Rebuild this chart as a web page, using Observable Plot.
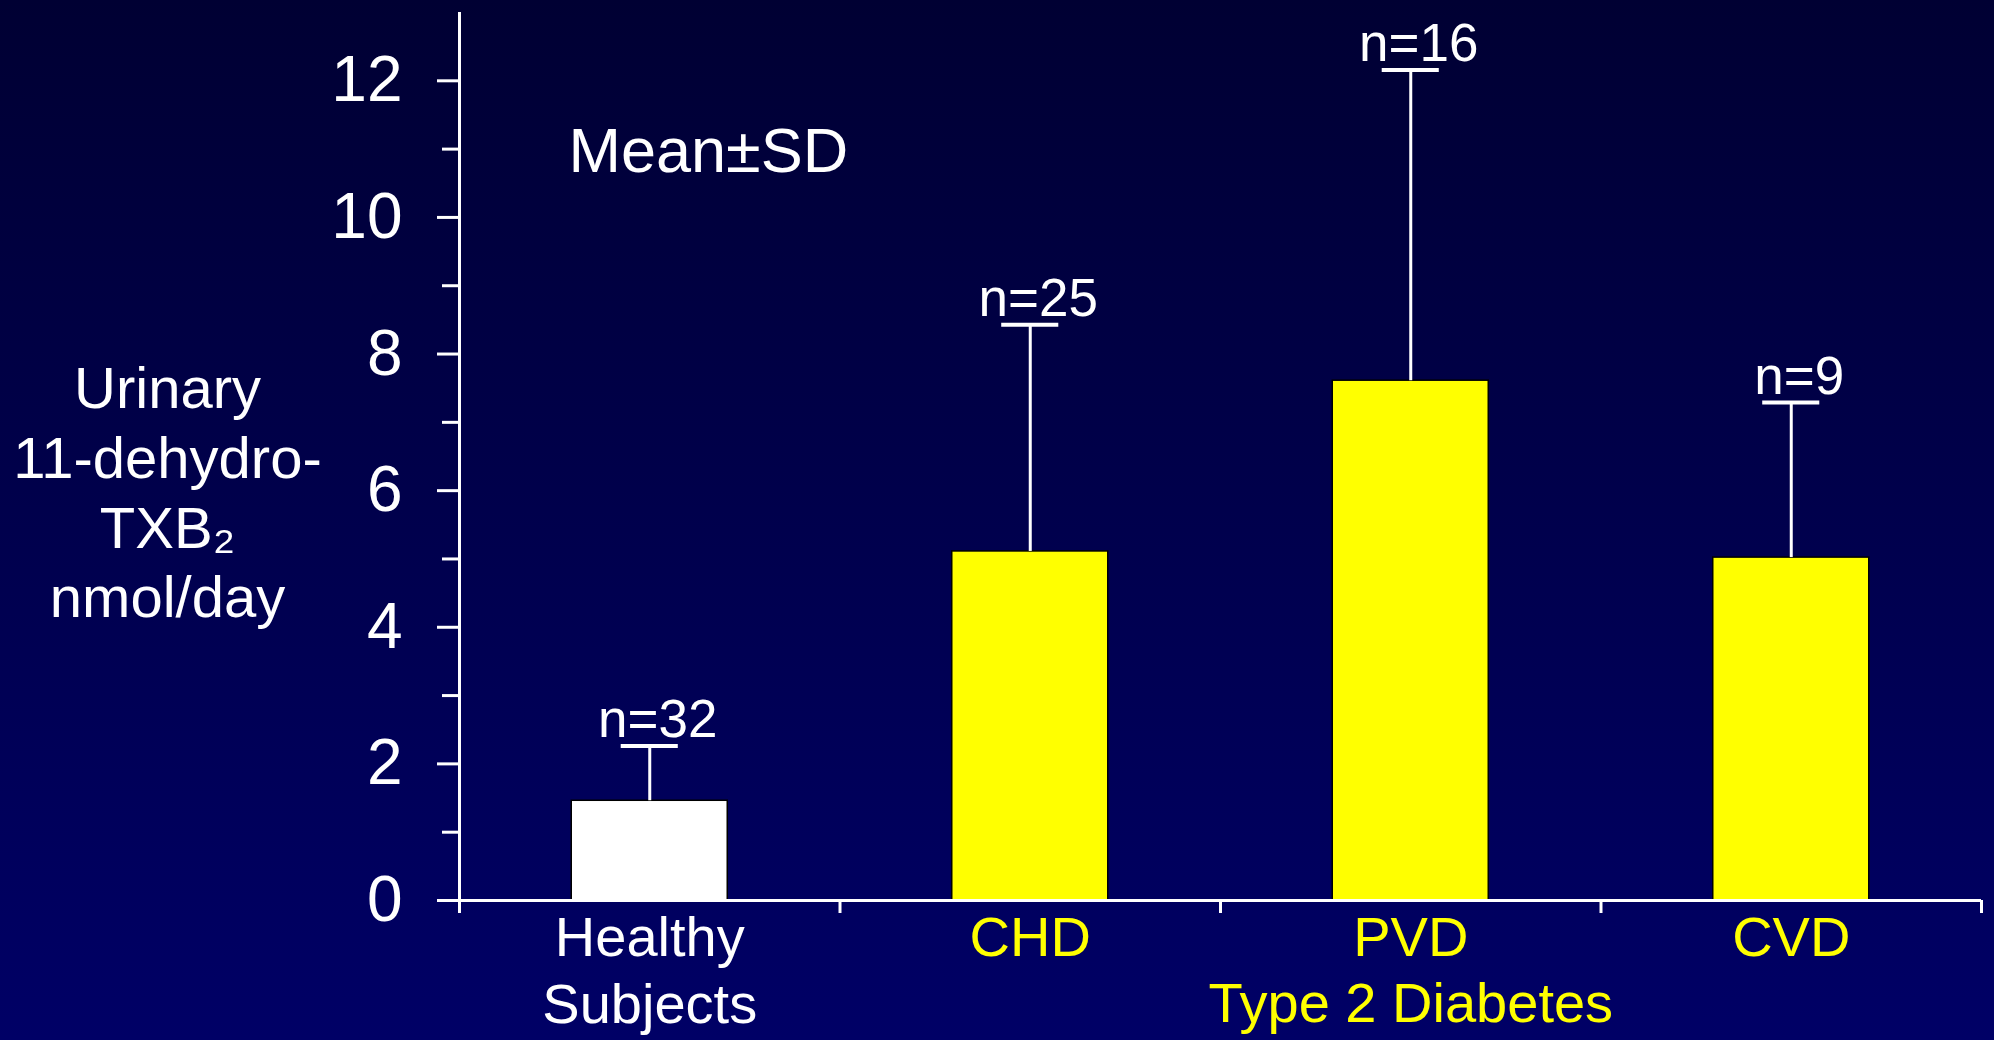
<!DOCTYPE html>
<html><head><meta charset="utf-8">
<script src="https://cdn.jsdelivr.net/npm/d3@7"></script>
<script src="https://cdn.jsdelivr.net/npm/@observablehq/plot@0.6"></script>
<style>
html,body{margin:0;padding:0;}
body{width:1994px;height:1040px;background:linear-gradient(to bottom,#000033,#000066);overflow:hidden;font-family:"Liberation Sans",Arial,sans-serif;}
#chart svg{display:block;}
</style></head><body><div id="chart"></div>
<script>
// ---- data ----
const categories = ["Healthy\nSubjects", "CHD", "PVD", "CVD"];
const means = [1.46, 5.11, 7.61, 5.02];
const sds = [0.80, 3.32, 4.55, 2.27];
const nLabels = ["n=32", "n=25", "n=16", "n=9"];
const groups = ["healthy", "diabetes", "diabetes", "diabetes"];
const groupLabel = "Type 2 Diabetes";
const yTicks = [0, 2, 4, 6, 8, 10, 12];
const yMinorTicks = [1, 3, 5, 7, 9, 11];
const yMax = 13;
const yTitle = "Urinary\n11-dehydro-\nTXB\u2082\nnmol/day";
const note = "Mean\u00b1SD";

const YELLOW = "#ffff00";
const data = categories.map((c, i) => ({i, cat: c, mean: means[i], sd: sds[i], n: nLabels[i], group: groups[i]}));
const center = d => d.i + 0.5;
const diabIdx = data.filter(d => d.group === "diabetes").map(d => d.i);
const groupCenter = d3.mean(diabIdx) + 0.5;
const colorOf = d => d.group === "healthy" ? "white" : YELLOW;

const plot = Plot.plot({
  width: 1994,
  height: 1040,
  marginLeft: 459,
  marginRight: 13,
  marginTop: 12,
  marginBottom: 140,
  style: {background: "transparent", color: "white", fontFamily: "'Liberation Sans', Arial, sans-serif", overflow: "visible"},
  x: {type: "linear", domain: [0, categories.length]},
  y: {domain: [0, yMax]},
  marks: [
    // bars
    Plot.rectY(data, {x1: d => center(d) - 0.205, x2: d => center(d) + 0.205, y: "mean", fill: colorOf, stroke: "black", strokeWidth: 1.5}),
    // error whiskers
    Plot.ruleX(data, {x: center, y1: "mean", y2: d => d.mean + d.sd, stroke: "white", strokeWidth: 3}),
    Plot.ruleY(data, {y: d => d.mean + d.sd, x1: d => center(d) - 0.075, x2: d => center(d) + 0.075, stroke: "white", strokeWidth: 4}),
    // n labels
    Plot.text(data, {x: center, y: d => d.mean + d.sd, text: "n", dy: -9, dx: 8, fontSize: 53, lineAnchor: "bottom", fill: "white"}),
    // axes
    Plot.axisY({ticks: yTicks, tickSize: 22, tickPadding: 35, fontSize: 64, stroke: "white", strokeWidth: 3, fill: "white", label: null}),
    Plot.axisY({ticks: yMinorTicks, tickSize: 17, tickFormat: () => "", stroke: "white", strokeWidth: 3, label: null}),
    Plot.axisX({ticks: d3.range(categories.length + 1), tickSize: 13, tickFormat: () => "", stroke: "white", strokeWidth: 3, label: null}),
    Plot.ruleX([0], {y1: 0, y2: yMax, stroke: "white", strokeWidth: 3}),
    Plot.ruleY([0], {stroke: "white", strokeWidth: 3}),
    // category labels
    Plot.text(data, {x: center, y: () => 0, text: "cat", fill: colorOf, fontSize: 56, lineAnchor: "top", lineHeight: 1.2, dy: 8}),
    Plot.text([groupLabel], {x: () => groupCenter, y: () => 0, fill: YELLOW, fontSize: 56, lineAnchor: "top", dy: 82}),
    // annotation
    Plot.text([note], {frameAnchor: "top-left", textAnchor: "start", lineAnchor: "top", dx: 109, dy: 115, fontSize: 63, fill: "white"}),
    // y title
    Plot.text([yTitle], {frameAnchor: "left", textAnchor: "middle", lineAnchor: "middle", dx: -292, dy: 34, fontSize: 58, lineHeight: 1.2, fill: "white"})
  ]
});
document.getElementById("chart").appendChild(plot);
</script>
</body></html>
